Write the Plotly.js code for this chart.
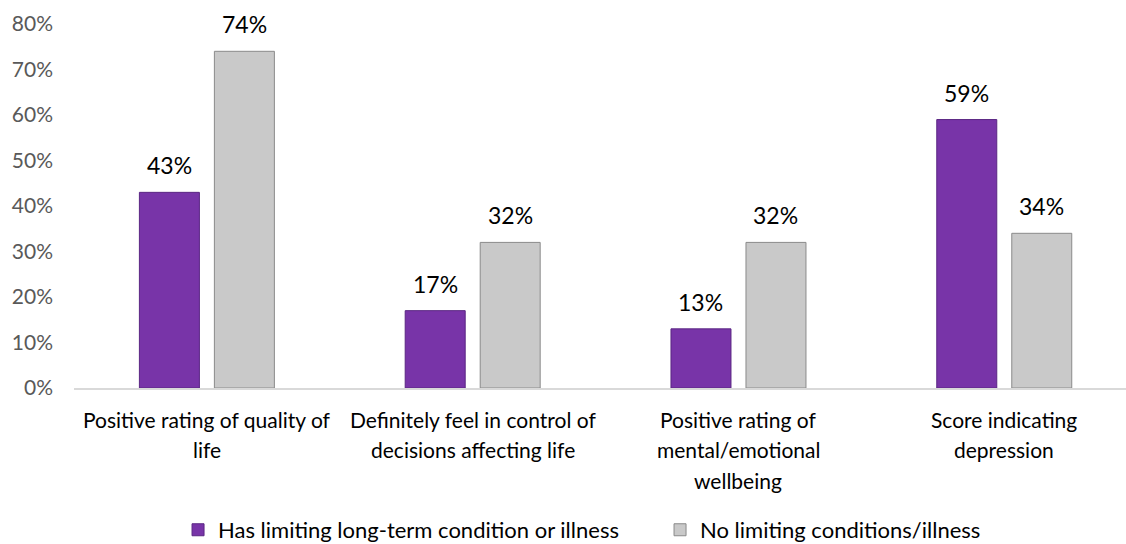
<!DOCTYPE html>
<html>
<head>
<meta charset="utf-8">
<script src="https://cdn.plot.ly/plotly-3.0.1.min.js"></script>
<style>html,body{margin:0;padding:0;background:#fff;}#chart{width:1126px;height:544px;}</style>
</head>
<body>
<div id="chart"></div>
<script>
const categories = [
  "Positive rating of quality of<br>life",
  "Definitely feel in control of<br>decisions affecting life",
  "Positive rating of<br>mental/emotional<br>wellbeing",
  "Score indicating<br>depression"
];
const seriesNames = ["Has limiting long-term condition or illness", "No limiting conditions/illness"];
const limitingValues = [43, 17, 13, 59];
const noLimitingValues = [74, 32, 32, 34];

const FONT = "Lato, 'Open Sans', sans-serif";
const catKeys = categories.map((c, i) => "c" + i);

const traces = [
  {
    type: "bar", name: seriesNames[0], x: catKeys, y: limitingValues,
    marker: {color: "#7834a8", line: {color: "#5a2683", width: 1}},
    hoverinfo: "y"
  },
  {
    type: "bar", name: seriesNames[1], x: catKeys, y: noLimitingValues,
    marker: {color: "#c9c9c9", line: {color: "#8a8a8a", width: 1}},
    hoverinfo: "y"
  }
];

const annotations = [];
// category labels, one annotation per line
categories.forEach((c, i) => {
  c.split("<br>").forEach((line, j) => {
    annotations.push({
      xref: "x", yref: "y", x: catKeys[i], y: 0, text: line, showarrow: false,
      yanchor: "middle", xanchor: "center", yshift: -(31 + j * 30.5),
      font: {family: FONT, size: 21, color: "#000"}
    });
  });
});
// data labels
[limitingValues, noLimitingValues].forEach((vals, s) => {
  vals.forEach((v, i) => {
    annotations.push({
      xref: "x", yref: "y", x: i, y: v, text: v + "%", showarrow: false,
      yanchor: "bottom", xanchor: "center", yshift: 11, xshift: s === 0 ? -37.5 : 37.5,
      font: {family: FONT, size: 23, color: "#000"}
    });
  });
});

const layout = {
  width: 1126, height: 544,
  margin: {l: 74, r: 0, t: 24, b: 156, autoexpand: false},
  paper_bgcolor: "#fff", plot_bgcolor: "#fff",
  barmode: "group", bargap: 0.4357, bargroupgap: 0.2,
  font: {family: FONT},
  xaxis: {
    type: "category", range: [-0.5, 3.458], showticklabels: false, automargin: false,
    showline: true, linecolor: "#d9d9d9", linewidth: 1.5, ticks: "", showgrid: false, zeroline: false
  },
  yaxis: {
    range: [0, 80], dtick: 10, ticksuffix: "%", showgrid: false, zeroline: false, showline: false, automargin: false,
    ticks: "", ticklabelstandoff: 20, tickfont: {family: FONT, size: 21, color: "#595959"}
  },
  showlegend: true,
  legend: {
    orientation: "h", x: 0.0989, xanchor: "left", y: -0.39, yanchor: "middle",
    font: {family: FONT, size: 22, color: "#000"}, entrywidth: 437, entrywidthmode: "pixels",
    traceorder: "normal", itemwidth: 30, bgcolor: "rgba(0,0,0,0)"
  },
  annotations: annotations
};

Plotly.newPlot("chart", traces, layout, {displayModeBar: false, staticPlot: true});
</script>
</body>
</html>
